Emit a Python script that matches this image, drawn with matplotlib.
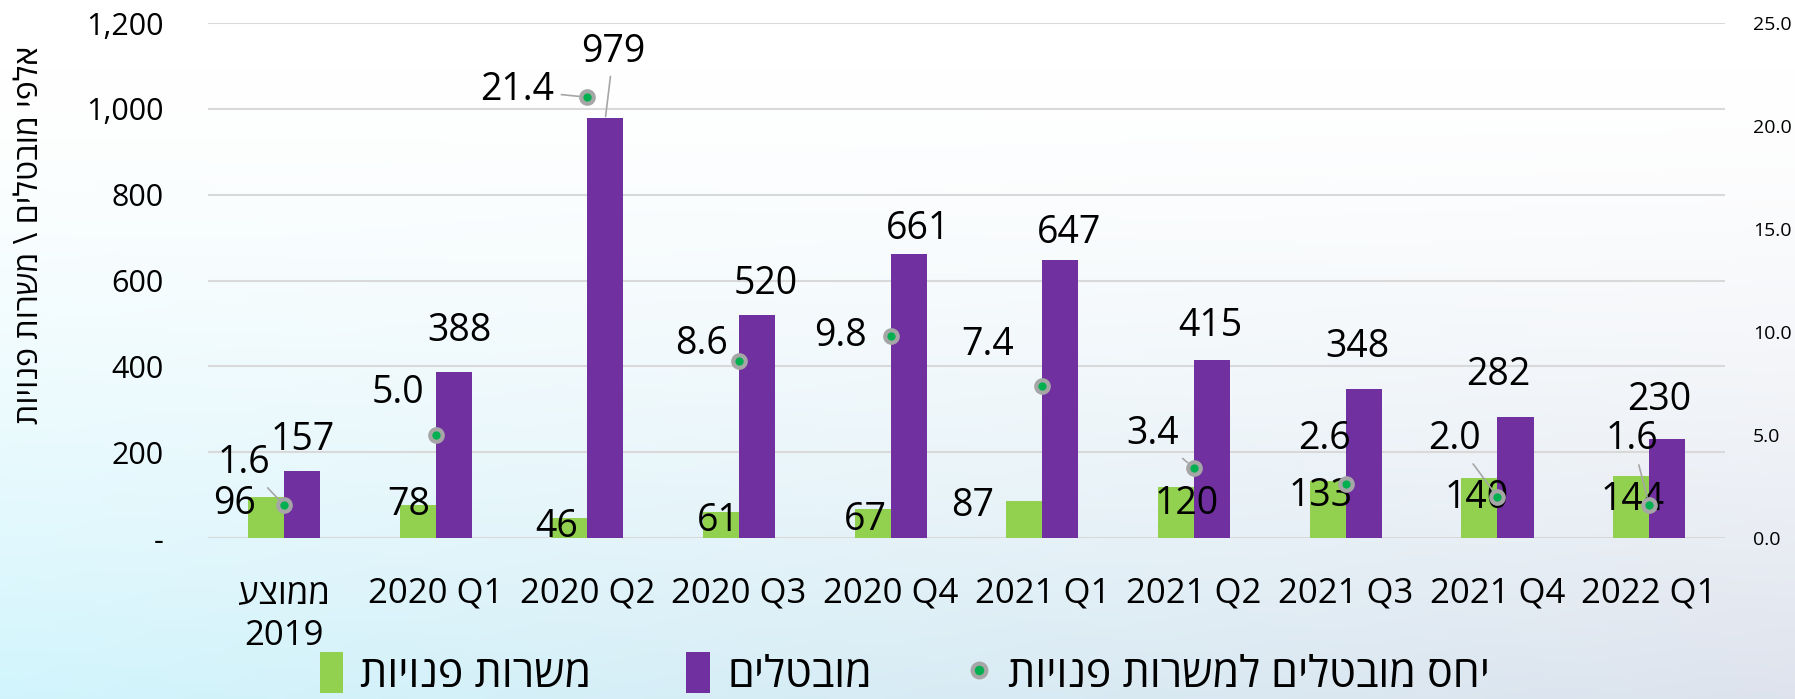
import matplotlib
matplotlib.use("Agg")
import matplotlib.pyplot as plt
import numpy as np
from matplotlib.ticker import FuncFormatter

plt.rcParams['font.family'] = ['Open Sans', 'DejaVu Sans']


def heb(s):
    # matplotlib has no bidi support, so Hebrew is drawn reversed
    return s[::-1]


# data
categories = [heb("ממוצע") + "\n2019", "2020 Q1", "2020 Q2", "2020 Q3", "2020 Q4",
              "2021 Q1", "2021 Q2", "2021 Q3", "2021 Q4", "2022 Q1"]
vacancies = [96, 78, 46, 61, 67, 87, 120, 133, 140, 144]
unemployed = [157, 388, 979, 520, 661, 647, 415, 348, 282, 230]
ratio = [1.6, 5.0, 21.4, 8.6, 9.8, 7.4, 3.4, 2.6, 2.0, 1.6]

name_vac = heb("משרות פנויות")
name_unemp = heb("מובטלים")
name_ratio = heb("יחס מובטלים למשרות פנויות")
ylabel = heb("אלפי מובטלים \\ משרות פנויות")

# label offsets in pixels (manual placement as in the original)
vac_off = [(-31, -7), (-9, 0), (-13, -9), (-3, -9), (-7, -11), (-52, -5),
           (11, -17), (-7, -15), (-3, -20), (2, -24)]
unemp_off = [(1, 31), (6, 41), (8, 66), (9, 31), (9, 25), (9, 27),
             (-2, 34), (-6, 42), (-17, 42), (-8, 39)]
ratio_off = [(-40, 42), (-38, 42), (-70, 7), (-38, 17), (-50, 0), (-55, 41),
             (-41, 34), (-21, 45), (-43, 58), (-17, 66)]
ratio_leader = [True, False, True, False, False, False, True, False, True, True]

GREEN = '#92D050'
PURPLE = '#7030A0'

fig = plt.figure(figsize=(17.95, 6.99), dpi=100)

# soft background gradient
H, W = 200, 400
yy = np.linspace(0, 1, H)[:, None]
xx = np.linspace(0, 1, W)[None, :]
t = np.clip((yy - 0.1) / 0.9, 0, 1) ** 1.4
left_c = np.array([0.82, 0.96, 0.99])
right_c = np.array([0.87, 0.89, 0.93])
c = left_c[None, None, :] * (1 - xx[..., None]) + right_c[None, None, :] * xx[..., None]
bg = np.ones((H, W, 3)) * (1 - t[..., None]) + c * t[..., None]
bg_ax = fig.add_axes([0, 0, 1, 1], zorder=-10)
bg_ax.imshow(bg, aspect='auto', extent=[0, 1, 0, 1])
bg_ax.axis('off')

ax = fig.add_axes([0.116, 0.2303, 0.845, 0.7367])
ax.patch.set_alpha(0)
x = np.arange(len(categories))
w = 0.2375

ax.bar(x - w / 2, vacancies, w, color=GREEN, label=name_vac, zorder=3)
ax.bar(x + w / 2, unemployed, w, color=PURPLE, label=name_unemp, zorder=3)

ax.set_xlim(-0.5, len(categories) - 0.5)
ax.set_ylim(0, 1200)
ax.set_yticks(range(0, 1201, 200))
ax.yaxis.set_major_formatter(FuncFormatter(lambda v, p: '-' if v == 0 else f'{int(v):,}'))
ax.grid(axis='y', color='#d9d9d9', lw=1.5, zorder=0)
for s in ax.spines.values():
    s.set_visible(False)
ax.tick_params(axis='y', length=0, labelsize=22, pad=32)
ax.tick_params(axis='x', length=0, labelsize=25, pad=28)
ax.set_xticks(x)
ax.set_xticklabels(categories, linespacing=1.3)
ax.set_ylabel(ylabel, fontsize=23)
ax.yaxis.set_label_coords(-0.107, 0.588)

for i in range(len(x)):
    ax.annotate(str(vacancies[i]), (x[i] - w / 2, vacancies[i]), xytext=vac_off[i],
                textcoords='offset pixels', ha='center', va='center', fontsize=27, zorder=5)
    kw = {}
    if i == 2:
        kw['arrowprops'] = dict(arrowstyle='-', color='#a6a6a6', lw=1.2, shrinkA=2, shrinkB=1)
    ax.annotate(str(unemployed[i]), (x[i] + w / 2, unemployed[i]), xytext=unemp_off[i],
                textcoords='offset pixels', ha='center', va='center', fontsize=27, zorder=5, **kw)

ax2 = ax.twinx()
ax2.set_ylim(0, 25)
ax2.set_yticks(np.arange(0, 26, 5))
ax2.yaxis.set_major_formatter(FuncFormatter(lambda v, p: f'{v:.1f}'))
for s in ax2.spines.values():
    s.set_visible(False)
ax2.tick_params(axis='y', length=0, labelsize=14, pad=20)
ax2.plot(x, ratio, linestyle='none', marker='o', markersize=9, markerfacecolor='#00B050',
         markeredgecolor='#A6A6A6', markeredgewidth=3, label=name_ratio, zorder=6)
for i in range(len(x)):
    kw = {}
    if ratio_leader[i]:
        kw['arrowprops'] = dict(arrowstyle='-', color='#a6a6a6', lw=1.2, shrinkA=3, shrinkB=6)
    ax2.annotate(f'{ratio[i]:.1f}', (x[i], ratio[i]), xytext=ratio_off[i],
                 textcoords='offset pixels', ha='center', va='center', fontsize=27, zorder=7, **kw)

h1, l1 = ax.get_legend_handles_labels()
h2, l2 = ax2.get_legend_handles_labels()
fig.legend(h1 + h2, l1 + l2, loc='center', bbox_to_anchor=(0.504, 0.034), ncol=3,
           frameon=False, fontsize=31, handlelength=0.55, handleheight=1.1,
           columnspacing=2.2, handletextpad=0.4, markerscale=1.1, borderpad=0.1)

fig.savefig('out.png', dpi=100)
